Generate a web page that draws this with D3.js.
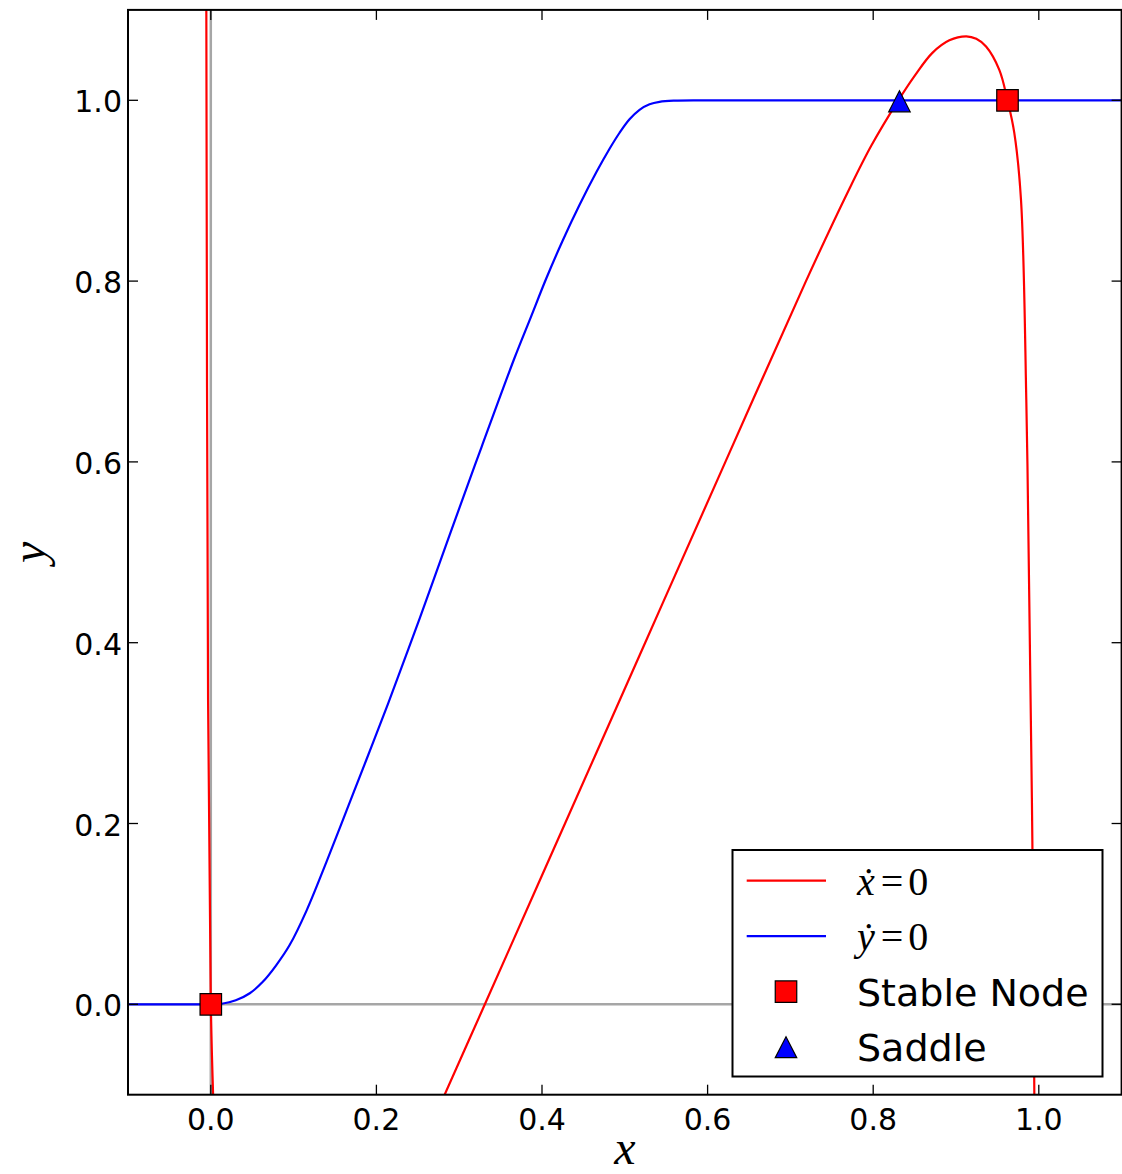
<!DOCTYPE html>
<html>
<head>
<meta charset="utf-8">
<script src="https://cdn.jsdelivr.net/npm/d3@7"></script>
<style>
  body { margin: 0; background: #fff; }
  svg { display: block; }
</style>
</head>
<body>
<div id="chart"></div>
<script>
// values
const xDomain = [-0.1, 1.1];
const yDomain = [-0.1, 1.1];
const xTicks = [0.0, 0.2, 0.4, 0.6, 0.8, 1.0];
const yTicks = [0.0, 0.2, 0.4, 0.6, 0.8, 1.0];

// y-nullcline (blue)
const blueX = [-0.1, -0.05, 0.0, 0.0133, 0.0302, 0.0471, 0.0628, 0.0785, 0.0954, 0.1155, 0.1397, 0.1638, 0.1879, 0.2140, 0.2523, 0.2885, 0.3271, 0.3669, 0.3862, 0.4055, 0.4249, 0.4454, 0.4659, 0.4816, 0.4937, 0.5057, 0.5178, 0.5299, 0.5419, 0.5600, 0.5902, 0.65, 0.8, 1.1];
const blueY = [0.0, 0.0, 0.0, 0.0006, 0.0044, 0.0122, 0.0249, 0.0426, 0.0658, 0.1034, 0.1576, 0.2140, 0.2705, 0.3324, 0.4270, 0.5194, 0.6167, 0.7152, 0.7594, 0.8037, 0.8446, 0.8844, 0.9209, 0.9464, 0.9641, 0.9790, 0.9895, 0.9956, 0.9983, 0.9996, 1.0, 1.0, 1.0, 1.0];

// x-nullcline (red), left branch near x = 0
const redLeftX = [-0.0054, -0.0033, 0.0, 0.0028];
const redLeftY = [1.1, 0.337, 0.0, -0.1];

// x-nullcline (red), right branch
const redRightX = [0.2824, 0.3310, 0.4278, 0.5246, 0.6215, 0.7188, 0.7701, 0.7978, 0.8304, 0.8509, 0.8715, 0.8920, 0.9125, 0.9245, 0.9363, 0.9523, 0.9622, 0.9704, 0.9785, 0.9849, 0.9885, 0.9922, 0.9946];
const redRightY = [-0.1, 0.0, 0.2, 0.4, 0.6, 0.8, 0.9, 0.95, 1.0, 1.0282, 1.0525, 1.0664, 1.0708, 1.068, 1.0595, 1.0337, 1.0, 0.9640, 0.8899, 0.6687, 0.4475, 0.182, -0.1];

const stableX = [0.0, 0.9622];
const stableY = [0.0, 1.0];
const saddleX = [0.8317];
const saddleY = [1.0];

const legendLabels = ["x=0", "y=0", "Stable Node", "Saddle"];

var W = 1122, H = 1174;
var margin = {left: 128, right: 0.4, top: 9.9, bottom: 79.3};

var svg = d3.select("#chart").append("svg")
    .attr("width", W)
    .attr("height", H);

var x = d3.scaleLinear().domain(xDomain).range([margin.left, W - margin.right]);
var y = d3.scaleLinear().domain(yDomain).range([H - margin.bottom, margin.top]);

var zip = (xs, ys) => xs.map((v, i) => [v, ys[i]]);

svg.append("clipPath").attr("id", "plotclip")
  .append("rect")
    .attr("x", x(xDomain[0])).attr("y", y(yDomain[1]))
    .attr("width", x(xDomain[1]) - x(xDomain[0]))
    .attr("height", y(yDomain[0]) - y(yDomain[1]));

var plot = svg.append("g").attr("clip-path", "url(#plotclip)");

// gray zero lines
plot.append("line")
    .attr("x1", x(xDomain[0])).attr("x2", x(xDomain[1]))
    .attr("y1", y(0)).attr("y2", y(0))
    .attr("stroke", "#a6a6a6").attr("stroke-width", 2.5);
plot.append("line")
    .attr("x1", x(0)).attr("x2", x(0))
    .attr("y1", y(yDomain[0])).attr("y2", y(yDomain[1]))
    .attr("stroke", "#a6a6a6").attr("stroke-width", 2.5);

var curveLine = d3.line()
    .x(d => x(d[0]))
    .y(d => y(d[1]))
    .curve(d3.curveCatmullRom.alpha(0.5));

plot.append("path")
    .attr("d", curveLine(zip(redLeftX, redLeftY)))
    .attr("fill", "none").attr("stroke", "#ff0000").attr("stroke-width", 2.2);
plot.append("path")
    .attr("d", curveLine(zip(redRightX, redRightY)))
    .attr("fill", "none").attr("stroke", "#ff0000").attr("stroke-width", 2.2);
plot.append("path")
    .attr("d", curveLine(zip(blueX, blueY)))
    .attr("fill", "none").attr("stroke", "#0000ff").attr("stroke-width", 2.2);

var square = d3.symbol().type(d3.symbolSquare).size(21.5 * 21.5);
// matplotlib style '^': centred on its bounding box
var triW = 21.5, triH = 21;
var triangle = "M0," + (-triH / 2) + "L" + (triW / 2) + "," + (triH / 2) + "L" + (-triW / 2) + "," + (triH / 2) + "Z";

svg.selectAll(".stable")
  .data(zip(stableX, stableY))
  .enter().append("path")
    .attr("class", "stable")
    .attr("d", square)
    .attr("transform", d => "translate(" + x(d[0]) + "," + y(d[1]) + ")")
    .attr("fill", "#ff0000").attr("stroke", "#000").attr("stroke-width", 1.2);

svg.selectAll(".saddle")
  .data(zip(saddleX, saddleY))
  .enter().append("path")
    .attr("class", "saddle")
    .attr("d", triangle)
    .attr("transform", d => "translate(" + x(d[0]) + "," + (y(d[1]) + 1) + ")")
    .attr("fill", "#0000ff").attr("stroke", "#000").attr("stroke-width", 1.2);

// frame
svg.append("rect")
    .attr("x", x(xDomain[0])).attr("y", y(yDomain[1]))
    .attr("width", x(xDomain[1]) - x(xDomain[0]))
    .attr("height", y(yDomain[0]) - y(yDomain[1]))
    .attr("fill", "none").attr("stroke", "#000").attr("stroke-width", 2);

// inward ticks on all sides
var tickLen = 10;
var axisFont = "'DejaVu Sans', sans-serif";

xTicks.forEach(function(t) {
    svg.append("line").attr("x1", x(t)).attr("x2", x(t))
        .attr("y1", y(yDomain[0])).attr("y2", y(yDomain[0]) - tickLen)
        .attr("stroke", "#000").attr("stroke-width", 1.3);
    svg.append("line").attr("x1", x(t)).attr("x2", x(t))
        .attr("y1", y(yDomain[1])).attr("y2", y(yDomain[1]) + tickLen)
        .attr("stroke", "#000").attr("stroke-width", 1.3);
    svg.append("text")
        .attr("x", x(t)).attr("y", y(yDomain[0]) + 35.5)
        .attr("text-anchor", "middle")
        .attr("font-family", axisFont).attr("font-size", "30px")
        .text(d3.format(".1f")(t));
});

yTicks.forEach(function(t) {
    svg.append("line").attr("x1", x(xDomain[0])).attr("x2", x(xDomain[0]) + tickLen)
        .attr("y1", y(t)).attr("y2", y(t))
        .attr("stroke", "#000").attr("stroke-width", 1.3);
    svg.append("line").attr("x1", x(xDomain[1])).attr("x2", x(xDomain[1]) - tickLen)
        .attr("y1", y(t)).attr("y2", y(t))
        .attr("stroke", "#000").attr("stroke-width", 1.3);
    svg.append("text")
        .attr("x", x(xDomain[0]) - 6).attr("y", y(t) + 12)
        .attr("text-anchor", "end")
        .attr("font-family", axisFont).attr("font-size", "30px")
        .text(d3.format(".1f")(t));
});

// axis labels
var mathFont = "'Liberation Serif', 'DejaVu Serif', serif";
svg.append("text")
    .attr("x", (x(xDomain[0]) + x(xDomain[1])) / 2).attr("y", 1164)
    .attr("text-anchor", "middle")
    .attr("font-family", mathFont).attr("font-style", "italic").attr("font-size", "48px")
    .text("x");
svg.append("text")
    .attr("transform", "translate(45," + ((y(yDomain[0]) + y(yDomain[1])) / 2) + ") rotate(-90)")
    .attr("text-anchor", "middle")
    .attr("font-family", mathFont).attr("font-style", "italic").attr("font-size", "48px")
    .text("y");

// legend
var lg = svg.append("g");
var box = {x0: 732.5, y0: 850, x1: 1102.5, y1: 1076.5};
lg.append("rect")
    .attr("x", box.x0).attr("y", box.y0)
    .attr("width", box.x1 - box.x0).attr("height", box.y1 - box.y0)
    .attr("fill", "#fff").attr("stroke", "#000").attr("stroke-width", 2);

var rowY = [880.7, 936.2, 991.7, 1047.2];
var lineX = [746.7, 826], markX = 786, textX = 857;

lg.append("line").attr("x1", lineX[0]).attr("x2", lineX[1])
    .attr("y1", rowY[0]).attr("y2", rowY[0])
    .attr("stroke", "#ff0000").attr("stroke-width", 2.2);
lg.append("line").attr("x1", lineX[0]).attr("x2", lineX[1])
    .attr("y1", rowY[1]).attr("y2", rowY[1])
    .attr("stroke", "#0000ff").attr("stroke-width", 2.2);
lg.append("path").attr("d", square)
    .attr("transform", "translate(" + markX + "," + rowY[2] + ")")
    .attr("fill", "#ff0000").attr("stroke", "#000").attr("stroke-width", 1.2);
lg.append("path").attr("d", triangle)
    .attr("transform", "translate(" + markX + "," + rowY[3] + ")")
    .attr("fill", "#0000ff").attr("stroke", "#000").attr("stroke-width", 1.2);

// math entries: dotted variable, then "=" and "0"
[0, 1].forEach(function(i) {
    var t = lg.append("text")
        .attr("x", textX).attr("y", rowY[i] + 14)
        .attr("font-family", mathFont).attr("font-size", "40px");
    t.append("tspan").attr("font-style", "italic")
        .text(i === 0 ? "\u1E8B" : "\u1E8F");
    t.append("tspan").attr("dx", 6).text(legendLabels[i].charAt(1));
    t.append("tspan").attr("dx", 5).text(legendLabels[i].charAt(2));
});
[2, 3].forEach(function(i) {
    lg.append("text")
        .attr("x", textX).attr("y", rowY[i] + 14)
        .attr("font-family", axisFont).attr("font-size", "38px")
        .text(legendLabels[i]);
});
</script>
</body>
</html>
